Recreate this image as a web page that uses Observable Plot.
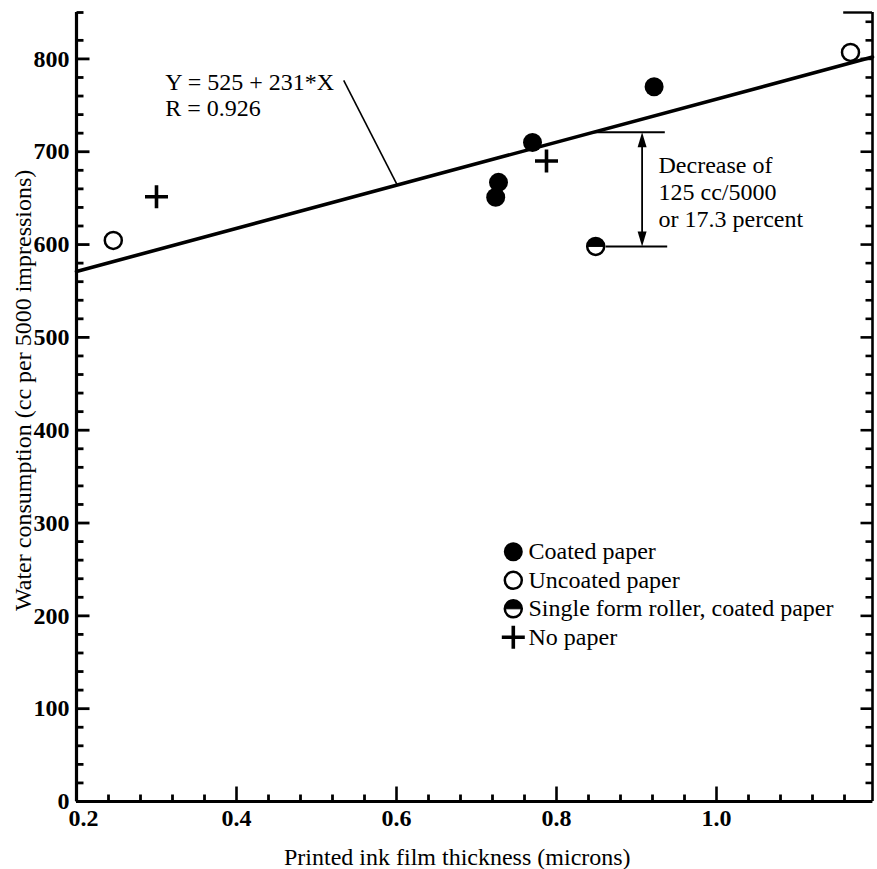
<!DOCTYPE html>
<html><head><meta charset="utf-8">
<script src="https://cdn.jsdelivr.net/npm/d3@7"></script>
<script src="https://cdn.jsdelivr.net/npm/@observablehq/plot@0.6"></script>
<style>
html,body{margin:0;padding:0;background:#fff;}
#chart svg{display:block;}
</style></head><body><div id="chart"></div>
<script>
// ---- data ----
const coatedX = [0.724, 0.7275, 0.770, 0.922];
const coatedY = [651, 667, 710, 770];
const uncoatedX = [0.246, 1.1675];
const uncoatedY = [604.5, 807];
const singleX = [0.849];
const singleY = [598];
const noPaperX = [0.300, 0.7875];
const noPaperY = [651.5, 690];

// regression line end points (Y = 525 + 231*X)
const fitX = [0.2, 1.195];
const fitY = [571, 802];

// ticks
const xTicksMajor = [0.2, 0.4, 0.6, 0.8, 1.0];
const xTickLabels = ["0.2", "0.4", "0.6", "0.8", "1.0"];
const xTicksMinor = [0.24,0.28,0.32,0.36,0.44,0.48,0.52,0.56,0.64,0.68,0.72,0.76,0.84,0.88,0.92,0.96,1.04,1.08,1.12,1.16];
const yTicksMajor = [0, 100, 200, 300, 400, 500, 600, 700, 800];
const yTicksMinorLeft = [20,40,60,80,120,140,160,180,220,240,260,280,320,340,360,380,420,440,460,480,520,540,560,580,620,640,660,680,720,740,760,780,820,850];
const yTicksMinorRight = [20,40,60,80,120,140,160,180,220,240,260,280,320,340,360,380,420,440,460,480,520,540,560,580,620,640,660,680,720,740,760,780,820,840];

// texts
const xTitle = "Printed ink film thickness (microns)";
const yTitle = "Water consumption (cc per 5000 impressions)";
const equationText = "Y = 525 + 231*X\nR = 0.926";
const decreaseText = "Decrease of\n125 cc/5000\nor 17.3 percent";
const legendLabels = ["Coated paper", "Uncoated paper", "Single form roller, coated paper", "No paper"];

const FONT = "'Liberation Serif', 'Times New Roman', 'DejaVu Serif', serif";

const W = 877, H = 869, ML = 76, MR = 5, MT = 12, MB = 68;
const FW = W - ML - MR, FH = H - MT - MB;
const XD = [0.2, 1.195], YD = [0, 850];
const pxX = (XD[1] - XD[0]) / FW;   // x-units per pixel
const pxY = (YD[1] - YD[0]) / FH;   // y-units per pixel

const topHalf = {draw(ctx, size) {const r = Math.sqrt(size / Math.PI); ctx.moveTo(r, 0); ctx.arc(0, 0, r, 0, Math.PI, true); ctx.closePath();}};
const arrowHead = {draw(ctx) {ctx.moveTo(0, 0); ctx.lineTo(-4.5, 15); ctx.lineTo(4.5, 15); ctx.closePath();}};
const plusSym = {draw(ctx) {ctx.moveTo(-11.5, 0); ctx.lineTo(11.5, 0); ctx.moveTo(0, -11.5); ctx.lineTo(0, 11.5);}};

const legendRowY = (i) => 269 - i * 30.7;
const legX = 0.746, legTextX = 0.765;

// tick segment helpers (inward ticks)
const hTicks = (vals, xa, xb, sw) => Plot.link(vals.map(v => ({v})), {x1: () => xa, x2: () => xb, y1: d => d.v, y2: d => d.v, stroke: "black", strokeWidth: sw});
const vTicks = (vals, ya, yb, sw) => Plot.link(vals.map(v => ({v})), {x1: d => d.v, x2: d => d.v, y1: () => ya, y2: () => yb, stroke: "black", strokeWidth: sw});

const chart = Plot.plot({
  width: W,
  height: H,
  marginLeft: ML,
  marginRight: MR,
  marginTop: MT,
  marginBottom: MB,
  style: {fontFamily: FONT, fontSize: "24px", background: "white", color: "black"},
  x: {domain: XD, axis: null},
  y: {domain: YD, axis: null},
  marks: [
    // axis lines
    Plot.ruleX([XD[0]], {y1: YD[0], y2: YD[1], strokeWidth: 3.2}),
    Plot.ruleY([YD[0]], {x1: XD[0], x2: XD[1], strokeWidth: 3.2}),
    Plot.ruleX([XD[1]], {y1: YD[0], y2: YD[1], strokeWidth: 2.6}),
    Plot.ruleY([YD[1]], {x1: 1.159, x2: XD[1], strokeWidth: 2.4}),
    // inward ticks
    hTicks(yTicksMajor, XD[0], XD[0] + 13 * pxX, 2.8),
    hTicks(yTicksMinorLeft, XD[0], XD[0] + 7 * pxX, 2.8),
    hTicks(yTicksMajor, XD[1] - 12 * pxX, XD[1], 2.6),
    hTicks(yTicksMinorRight, XD[1] - 7 * pxX, XD[1], 2.6),
    vTicks(xTicksMajor, YD[0], YD[0] + 15 * pxY, 2.6),
    vTicks(xTicksMinor, YD[0], YD[0] + 7 * pxY, 2.8),
    // tick labels
    Plot.axisY({ticks: yTicksMajor, tickSize: 0, tickPadding: 7, tickFormat: d3.format("d"), fontSize: 24, fontWeight: "bold", label: null}),
    Plot.axisX({ticks: [xTicksMajor[0]], tickSize: 0, tickPadding: 7, dx: 7, tickFormat: () => xTickLabels[0], fontSize: 24, fontWeight: "bold", label: null}),
    Plot.axisX({ticks: xTicksMajor.slice(1), tickSize: 0, tickPadding: 7, tickFormat: (d, i) => xTickLabels[i + 1], fontSize: 24, fontWeight: "bold", label: null}),
    // axis titles
    Plot.text([xTitle], {x: 0.676, y: 0, dy: 56, text: d => d, fontSize: 24, lineAnchor: "middle"}),
    Plot.text([yTitle], {x: 0.2, y: 443, dx: -53, rotate: -90, text: d => d, fontSize: 24, lineAnchor: "middle"}),
    // regression line
    Plot.line(fitX.map((x, i) => ({x, y: fitY[i]})), {x: "x", y: "y", strokeWidth: 3.6}),
    // equation + leader
    Plot.text([equationText], {x: 0.311, y: 761, text: d => d, fontSize: 24, textAnchor: "start", lineAnchor: "middle", lineHeight: 1.08}),
    Plot.link([0], {x1: 0.534, y1: 777, x2: 0.601, y2: 664, strokeWidth: 1.6}),
    // decrease bracket
    Plot.ruleY([721], {x1: 0.845, x2: 0.936, strokeWidth: 2}),
    Plot.ruleY([598], {x1: 0.862, x2: 0.939, strokeWidth: 2}),
    Plot.link([0], {x1: 0.907, y1: 710, x2: 0.907, y2: 609, strokeWidth: 1.8}),
    Plot.dot([0], {x: 0.907, y: 721, symbol: arrowHead, fill: "black", stroke: null, r: 5}),
    Plot.dot([0], {x: 0.907, y: 598, symbol: arrowHead, rotate: 180, fill: "black", stroke: null, r: 5}),
    Plot.text([decreaseText], {x: 0.9275, y: 657, text: d => d, fontSize: 24, textAnchor: "start", lineAnchor: "middle", lineHeight: 1.13}),
    // data points
    Plot.dot(coatedX.map((x, i) => ({x, y: coatedY[i]})), {x: "x", y: "y", r: 9.5, fill: "black", stroke: null}),
    Plot.dot(uncoatedX.map((x, i) => ({x, y: uncoatedY[i]})), {x: "x", y: "y", r: 8.5, fill: "white", stroke: "black", strokeWidth: 2.5}),
    Plot.dot(singleX.map((x, i) => ({x, y: singleY[i]})), {x: "x", y: "y", r: 8.5, fill: "white", stroke: "black", strokeWidth: 2.5}),
    Plot.dot(singleX.map((x, i) => ({x, y: singleY[i]})), {x: "x", y: "y", r: 8.5, symbol: topHalf, fill: "black", stroke: "black", strokeWidth: 1}),
    Plot.dot(noPaperX.map((x, i) => ({x, y: noPaperY[i]})), {x: "x", y: "y", r: 10, symbol: plusSym, fill: "none", stroke: "black", strokeWidth: 3.6}),
    // legend
    Plot.dot([0], {x: legX, y: legendRowY(0), r: 9.5, fill: "black", stroke: null}),
    Plot.dot([0], {x: legX, y: legendRowY(1), r: 8.5, fill: "white", stroke: "black", strokeWidth: 2.5}),
    Plot.dot([0], {x: legX, y: legendRowY(2), r: 8.5, fill: "white", stroke: "black", strokeWidth: 2.5}),
    Plot.dot([0], {x: legX, y: legendRowY(2), r: 8.5, symbol: topHalf, fill: "black", stroke: "black", strokeWidth: 1}),
    Plot.dot([0], {x: legX, y: legendRowY(3), r: 10, symbol: plusSym, fill: "none", stroke: "black", strokeWidth: 3.6}),
    Plot.text(legendLabels, {x: legTextX, y: (d, i) => legendRowY(i), text: d => d, fontSize: 24, textAnchor: "start", lineAnchor: "middle"})
  ]
});
document.getElementById("chart").appendChild(chart);
</script>
</body></html>
